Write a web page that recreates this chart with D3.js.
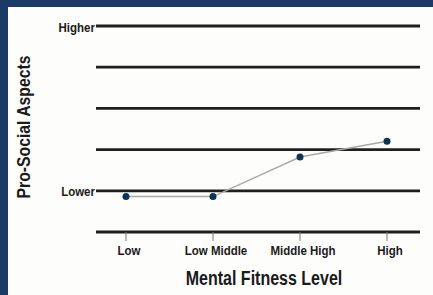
<!DOCTYPE html>
<html>
<head>
<meta charset="utf-8">
<script src="https://cdn.jsdelivr.net/npm/d3@7"></script>
<style>
  body { margin: 0; background: #1b3a68; }
  svg { display: block; }
  text { font-family: "Liberation Sans", Arial, sans-serif; font-weight: bold; fill: #1a1a1a; }
</style>
</head>
<body>
<div id="chart"></div>
<script>
// levels along the x axis
const levels = ["Low", "Low Middle", "Middle High", "High"];
// pro-social score per level (0 = axis, 5 = top line)
const scores = [0.86, 0.86, 1.82, 2.2];
// y tick labels
const yTicks = [0, 1, 2, 3, 4, 5];
const yLabels = {1: "Lower", 5: "Higher"};

const width = 433, height = 295;

// condensed look: squeeze the text to a share of its natural width
function condense(sel, k) {
    sel.each(function() {
        let len = this.getComputedTextLength();
        d3.select(this)
            .attr("textLength", len * k)
            .attr("lengthAdjust", "spacingAndGlyphs");
    });
}

let svg = d3.select("#chart").append("svg")
    .attr("width", width)
    .attr("height", height);

// white panel inside the blue frame
svg.append("rect")
    .attr("x", 8).attr("y", 7)
    .attr("width", width - 8).attr("height", height - 7)
    .attr("fill", "#fdfdfc");

let x = d3.scalePoint()
    .domain(levels)
    .range([126, 387]);

let y = d3.scaleLinear()
    .domain([0, 5])
    .range([232, 26]);

// horizontal rules
svg.selectAll(".grid")
    .data(yTicks)
    .enter().append("line")
    .attr("class", "grid")
    .attr("x1", 96).attr("x2", 420)
    .attr("y1", d => y(d)).attr("y2", d => y(d))
    .attr("stroke", "#1f1f1f")
    .attr("stroke-width", 2.8);

// y labels
svg.selectAll(".ylab")
    .data(yTicks.filter(d => yLabels[d]))
    .enter().append("text")
    .attr("class", "ylab")
    .attr("x", 95)
    .attr("y", d => y(d) + 5.5)
    .attr("text-anchor", "end")
    .attr("font-size", 12.5)
    .text(d => yLabels[d])
    .call(condense, 0.92);

// x tick marks
svg.selectAll(".tick")
    .data(levels)
    .enter().append("line")
    .attr("class", "tick")
    .attr("x1", d => x(d)).attr("x2", d => x(d))
    .attr("y1", y(0)).attr("y2", y(0) + 9)
    .attr("stroke", "#777")
    .attr("stroke-width", 1);

svg.selectAll(".xlab")
    .data(levels)
    .enter().append("text")
    .attr("class", "xlab")
    .attr("x", d => x(d) + 3)
    .attr("y", 255)
    .attr("text-anchor", "middle")
    .attr("font-size", 13.5)
    .text(d => d)
    .call(condense, 0.85);

// connecting line
let line = d3.line()
    .x((d, i) => x(levels[i]))
    .y(d => y(d));

svg.append("path")
    .datum(scores)
    .attr("d", line)
    .attr("fill", "none")
    .attr("stroke", "#a9a9a9")
    .attr("stroke-width", 1.5);

svg.selectAll(".point")
    .data(scores)
    .enter().append("circle")
    .attr("class", "point")
    .attr("cx", (d, i) => x(levels[i]))
    .attr("cy", d => y(d))
    .attr("r", 3.5)
    .attr("fill", "#0e3452");

// axis titles
svg.append("text")
    .attr("x", 264)
    .attr("y", 285)
    .attr("text-anchor", "middle")
    .attr("font-size", 20)
    .text("Mental Fitness Level")
    .call(condense, 0.8);

svg.append("text")
    .attr("transform", "translate(30,127) rotate(-90)")
    .attr("text-anchor", "middle")
    .attr("font-size", 17.5)
    .text("Pro-Social Aspects")
    .call(condense, 0.9);
</script>
</body>
</html>
